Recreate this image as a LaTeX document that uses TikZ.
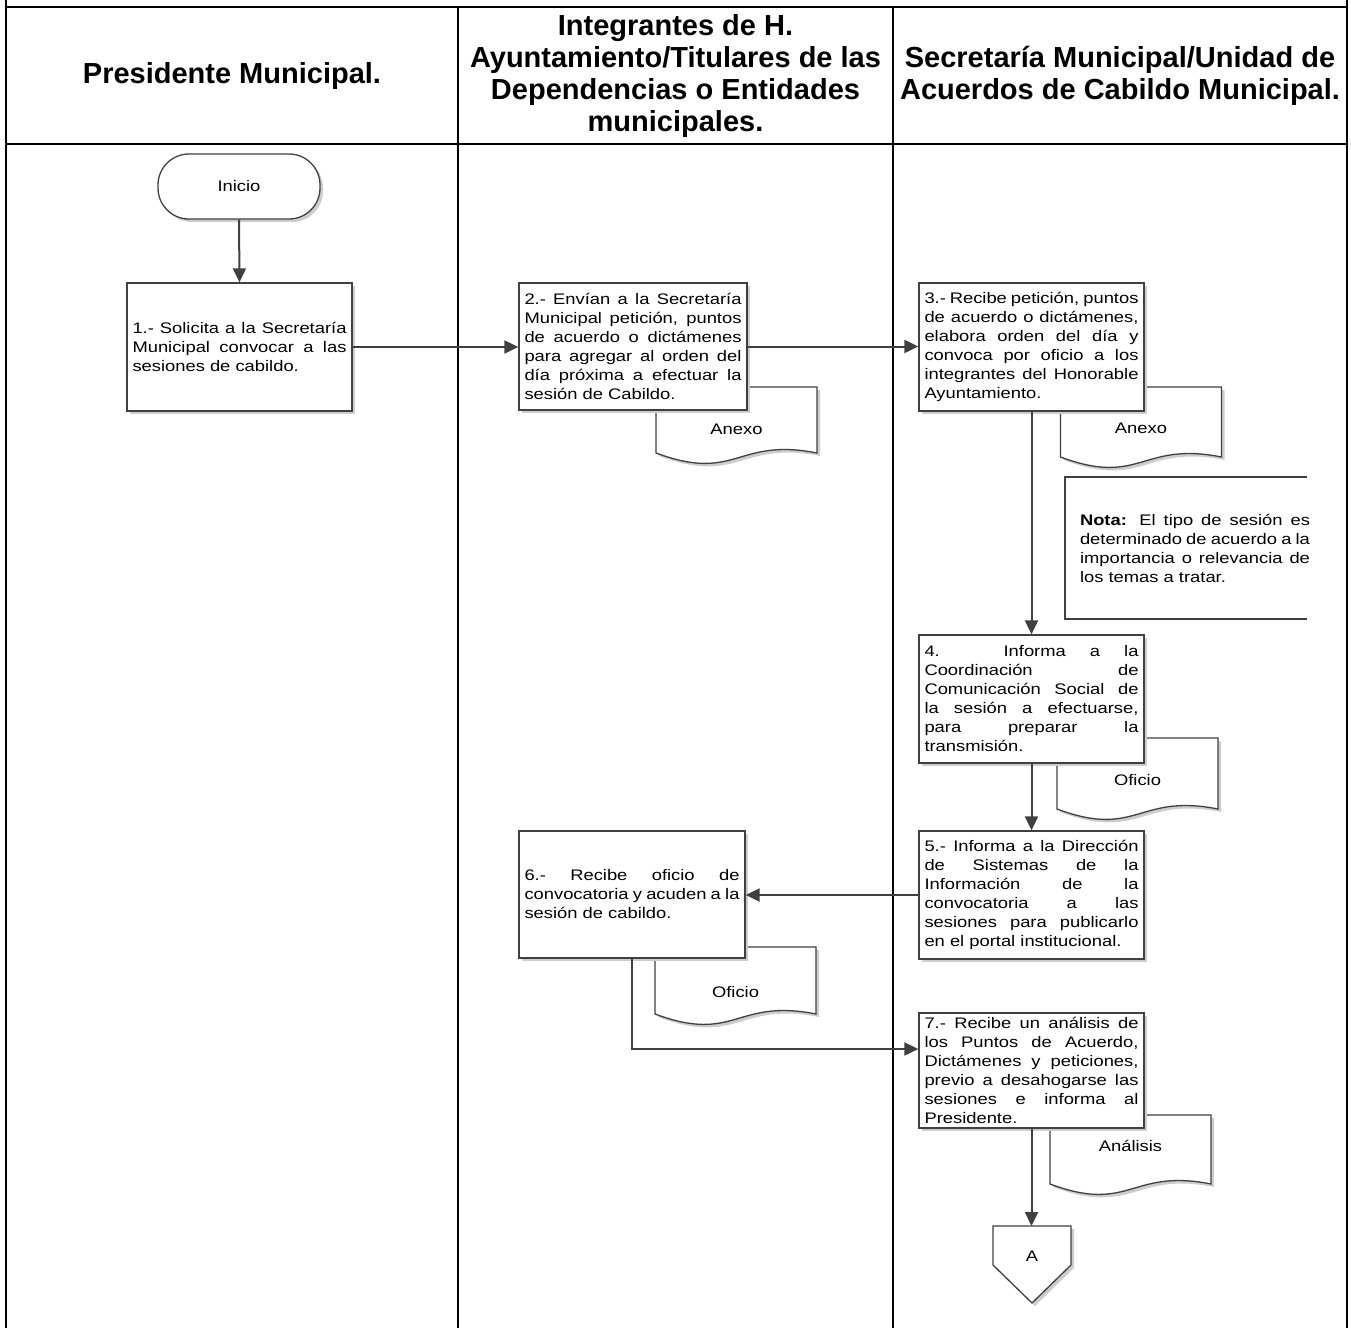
\documentclass[tikz,border=0pt]{standalone}
\usepackage{fontspec}
\setmainfont{Liberation Sans}
\newfontfamily\bodyfont{Liberation Sans}[FakeStretch=1.2]
\newfontfamily\headfont{Liberation Sans}
\usetikzlibrary{arrows.meta,calc,shadows}
\definecolor{linecol}{RGB}{64,64,64}
\definecolor{shadowcol}{RGB}{205,205,205}
\newcommand\bodytext{\bodyfont\fontsize{15.3pt}{19pt}\selectfont}
\newcommand\headtext{\headfont\bfseries\fontsize{29pt}{32pt}\selectfont}
\hyphenpenalty=10000
\exhyphenpenalty=10000
\tolerance=10000
\hbadness=10000
% document symbol outline around a coordinate: #2 = top offset, #3 = bottom offset
\newcommand\docoutline[3]{%
  \draw[docline] ($(#1)+(-80.5,-#2)$) -- ($(#1)+(80.5,-#2)$) -- ($(#1)+(80.5,#3)$)
    .. controls ($(#1)+(0,#3-16)$) and ($(#1)+(0,#3+30)$) .. ($(#1)+(-80.5,#3)$) -- cycle;}
\begin{document}
\begin{tikzpicture}[x=1pt,y=-1pt,
  frame/.style={line width=2.2pt, black},
  boxshadow/.style={drop shadow={shadow xshift=3pt,shadow yshift=-3pt,fill=shadowcol,opacity=1}},
  stepbox/.style={draw=linecol, line width=1.3pt, fill=white, boxshadow,
    font=\bodytext, align=justify, inner xsep=5.5pt, inner ysep=2pt},
  terminal/.style={draw=linecol, line width=1.3pt, fill=white, boxshadow,
    rounded corners=31pt, minimum width=162pt, minimum height=65pt, font=\bodytext},
  docline/.style={draw=linecol, line width=1.3pt, fill=white, boxshadow},
  doctext/.style={font=\bodytext, inner sep=0pt},
  notetext/.style={font=\bodytext, align=justify, text width=230pt, inner sep=0pt},
  headnode/.style={font=\headtext, align=center, inner sep=0pt},
  arrowline/.style={draw=linecol, line width=2pt, -{Triangle[length=14pt,width=13pt]}},
  plainline/.style={draw=linecol, line width=1.3pt}
]
\useasboundingbox (0,0) rectangle (1351,1328);

% ---------- frame ----------
\draw[frame] (6,0) -- (6,1328);
\draw[frame] (1347,0) -- (1347,1328);
\draw[frame] (458,7) -- (458,1328);
\draw[frame] (893,7) -- (893,1328);
\draw[frame] (5,7) -- (1348,7);
\draw[frame] (5,144) -- (1348,144);

% ---------- headers ----------
\node[headnode] (h1) at (232,75.5) {Presidente Municipal.};
\node[headnode] (h2) at (675.5,75.5) {Integrantes de H.\\Ayuntamiento/Titulares de las\\Dependencias o Entidades\\municipales.};
\node[headnode] (h3) at (1120,75.5) {Secretaría Municipal/Unidad de\\Acuerdos de Cabildo Municipal.};

% ---------- documents (drawn behind the boxes) ----------
\coordinate (d1) at (736.5,429);
\docoutline{d1}{42}{24}
\node[doctext] (doc1) at (d1) {Anexo};

\coordinate (d2) at (1141,428);
\docoutline{d2}{41}{29}
\node[doctext] (doc2) at (d2) {Anexo};

\coordinate (d3) at (1137.5,780);
\docoutline{d3}{42}{29}
\node[doctext] (doc3) at (d3) {Oficio};

\coordinate (d4) at (735.5,992);
\docoutline{d4}{45}{22}
\node[doctext] (doc4) at (d4) {Oficio};

\coordinate (d5) at (1130.5,1146);
\docoutline{d5}{31}{38}
\node[doctext] (doc5) at (d5) {Análisis};

% ---------- start ----------
\node[terminal] (inicio) at (239,186.5) {Inicio};

% ---------- process boxes ----------
\node[stepbox, text width=214pt, minimum height=128pt] (box1) at (239.5,347)
  {1.- Solicita a la Secretaría\linebreak Municipal convocar a las\linebreak sesiones de cabildo.};

\node[stepbox, text width=217pt, minimum height=127pt] (box2) at (633,346.5)
  {2.- Envían a la Secretaría\linebreak Municipal petición, puntos\linebreak de acuerdo o dictámenes\linebreak para agregar al orden del\linebreak día próxima a efectuar la\linebreak sesión de Cabildo.};

\node[stepbox, text width=214pt, minimum height=128pt] (box3) at (1031.5,347)
  {3.- Recibe petición, puntos\linebreak de acuerdo o dictámenes,\linebreak elabora orden del día y\linebreak convoca por oficio a los\linebreak integrantes del Honorable\linebreak Ayuntamiento.};

\node[stepbox, text width=214pt, minimum height=128pt] (box4) at (1031.5,699)
  {4. Informa a la\linebreak Coordinación de\linebreak Comunicación Social de\linebreak la sesión a efectuarse,\linebreak para preparar la\linebreak transmisión.};

\node[stepbox, text width=214pt, minimum height=128pt] (box5) at (1031.5,895)
  {5.- Informa a la Dirección\linebreak de Sistemas de la\linebreak Información de la\linebreak convocatoria a las\linebreak sesiones para publicarlo\linebreak en el portal institucional.};

\node[stepbox, text width=215pt, minimum height=127pt] (box6) at (632,894.5)
  {6.- Recibe oficio de\linebreak convocatoria y acuden a la\linebreak sesión de cabildo.};

\node[stepbox, text width=214pt, minimum height=115pt] (box7) at (1031.5,1070.5)
  {7.- Recibe un análisis de\linebreak los Puntos de Acuerdo,\linebreak Dictámenes y peticiones,\linebreak previo a desahogarse las\linebreak sesiones e informa al\linebreak Presidente.};

% ---------- note ----------
\draw[plainline] (1307,477) -- (1065,477) -- (1065,619) -- (1307,619);
\node[notetext] (nota) at (1195,548)
  {\textbf{Nota:} El tipo de sesión es\linebreak determinado de acuerdo a la\linebreak importancia o relevancia de\linebreak los temas a tratar.};

% ---------- off-page connector ----------
\coordinate (ca) at (1032,1256);
\coordinate (caTop) at (1032,1226);
\draw[docline] ($(ca)+(-39,-30)$) -- ($(ca)+(39,-30)$) -- ($(ca)+(39,9)$) -- ($(ca)+(0,47)$) -- ($(ca)+(-39,9)$) -- cycle;
\node[doctext] (conA) at (ca) {A};

% ---------- connectors ----------
\coordinate (in7) at ($(box7.west)+(0,-21.5)$);
\draw[arrowline] (inicio.south) -- (box1.north);
\draw[arrowline] (box1.east) -- (box2.west |- box1.east);
\draw[arrowline] (box2.east) -- (box3.west |- box2.east);
\draw[arrowline] (box3.south) -- (box4.north);
\draw[arrowline] (box4.south) -- (box5.north);
\draw[arrowline] (box5.west) -- (box6.east |- box5.west);
\draw[arrowline] (box6.south) |- (in7);
\draw[arrowline] (box7.south) -- (box7.south |- caTop);
\end{tikzpicture}
\end{document}
